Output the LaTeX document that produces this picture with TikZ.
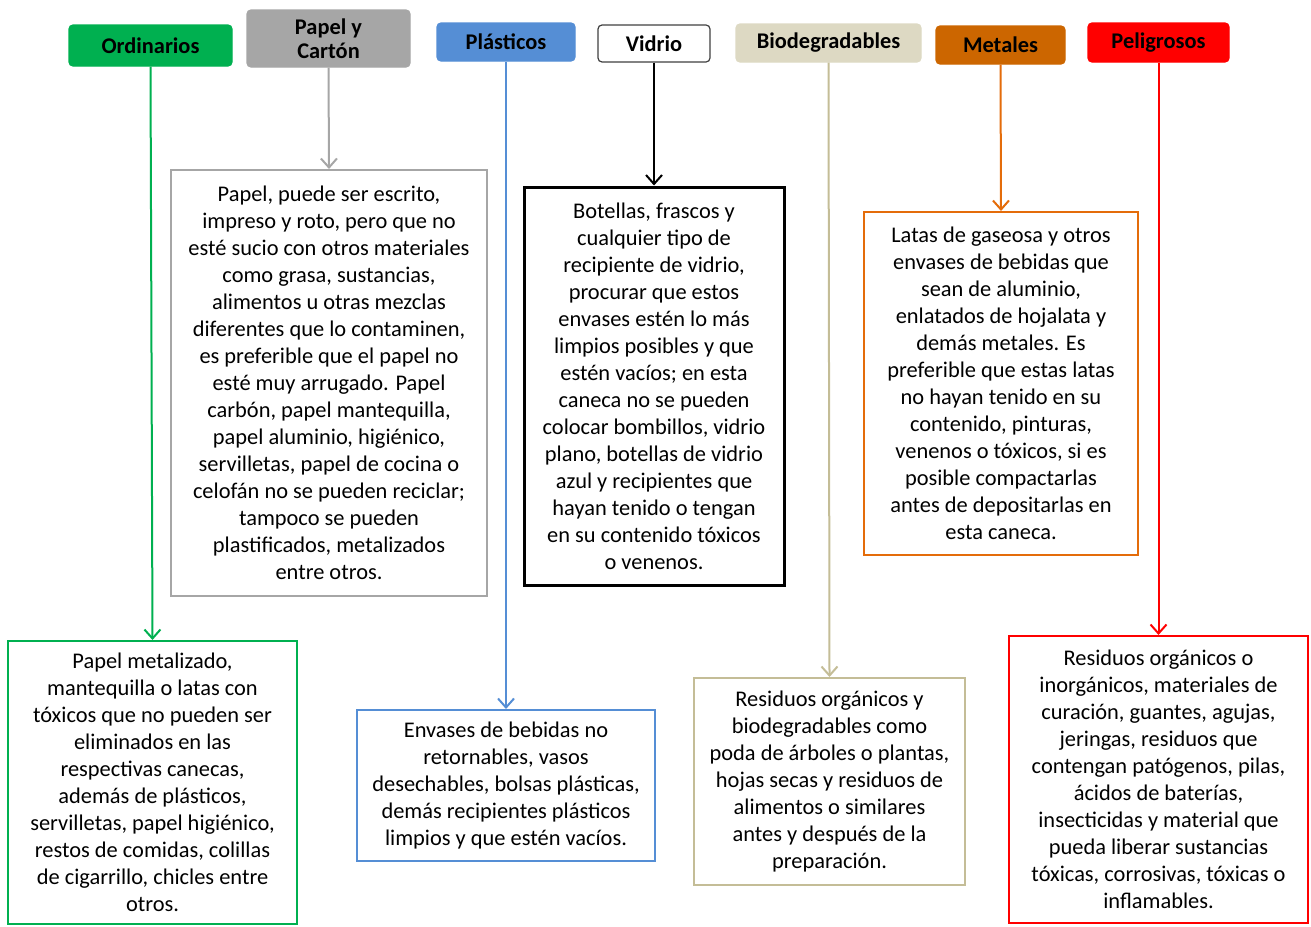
\documentclass[tikz,border=0pt]{standalone}
\usepackage{fontspec}
\setmainfont{Carlito}
\usetikzlibrary{arrows.meta}
\definecolor{ordC}{RGB}{0,176,80}
\definecolor{papC}{RGB}{166,166,166}
\definecolor{plaC}{RGB}{85,142,213}
\definecolor{bioC}{RGB}{221,217,195}
\definecolor{bioL}{RGB}{196,189,151}
\definecolor{metC}{RGB}{204,102,0}
\definecolor{metL}{RGB}{228,108,10}
\definecolor{pelC}{RGB}{255,0,0}
\tikzset{
  hdr/.style={rounded corners=2pt, draw=#1, fill=#1, line width=0.6pt,
    font=\bfseries\fontsize{11.2}{12}\selectfont, align=center, inner sep=0pt},
  txtbox/.style={draw=#1, line width=1pt, fill=white,
    font=\fontsize{11.2}{13.5}\selectfont, align=center, inner sep=0pt},
  link/.style={draw=#1, line width=1pt, -{Straight Barb[length=4.5pt,width=8pt]}}
}
\begin{document}
\begin{tikzpicture}[x=0.5pt,y=-0.5pt]
    \useasboundingbox (0,0) rectangle (1311,926);

    % Headers
    \node[hdr=ordC, minimum width=81.5pt, minimum height=20.5pt] (ord) at (150.5,45.5) {Ordinarios};
    \node[hdr=papC, minimum width=81.5pt, minimum height=28.5pt] (pap) at (328.5,38.5) {Papel y\\Cartón};
    \node[hdr=plaC, minimum width=69pt, minimum height=19pt] (pla) at (506,42) {Plásticos};
    \node[hdr=black!75, fill=white, minimum width=56pt, minimum height=18.5pt] (vid) at (654,43.5) {Vidrio};
    \node[hdr=bioC, minimum width=92.5pt, minimum height=19pt] (bio) at (828.5,43) {Biodegradables};
    \node[hdr=metC, minimum width=64.5pt, minimum height=19pt] (met) at (1000.5,45) {Metales};
    \node[hdr=pelC, minimum width=70.5pt, minimum height=19.5pt] (pel) at (1158.5,42.5) {Peligrosos};

    % Description boxes
    \node[txtbox=papC, minimum width=158pt, minimum height=213pt] (papT) at (329,383) {%
        Papel, puede ser escrito,\\impreso y roto, pero que no\\esté sucio con otros materiales\\
        como grasa, sustancias,\\alimentos u otras mezclas\\diferentes que lo contaminen,\\
        es preferible que el papel no\\esté muy arrugado. Papel\\carbón, papel mantequilla,\\
        papel aluminio, higiénico,\\servilletas, papel de cocina o\\celofán no se pueden reciclar;\\
        tampoco se pueden\\plastificados, metalizados\\entre otros.};
    \node[txtbox=black, line width=1.5pt, minimum width=130pt, minimum height=199pt] (vidT) at (654,386) {%
        Botellas, frascos y\\cualquier tipo de\\recipiente de vidrio,\\procurar que estos\\
        envases estén lo más\\limpios posibles y que\\estén vacíos; en esta\\caneca no se pueden\\
        colocar bombillos, vidrio\\plano, botellas de vidrio\\azul y recipientes que\\
        hayan tenido o tengan\\en su contenido tóxicos\\o venenos.};
    \node[txtbox=metL, minimum width=137pt, minimum height=171.5pt] (metT) at (1001,383.5) {%
        Latas de gaseosa y otros\\envases de bebidas que\\sean de aluminio,\\enlatados de hojalata y\\
        demás metales. Es\\preferible que estas latas\\no hayan tenido en su\\contenido, pinturas,\\
        venenos o tóxicos, si es\\posible compactarlas\\antes de depositarlas en\\esta caneca.};
    \node[txtbox=ordC, minimum width=144.5pt, minimum height=141.5pt] (ordT) at (152.5,782.5) {%
        Papel metalizado,\\mantequilla o latas con\\tóxicos que no pueden ser\\eliminados en las\\
        respectivas canecas,\\además de plásticos,\\servilletas, papel higiénico,\\
        restos de comidas, colillas\\de cigarrillo, chicles entre\\otros.};
    \node[txtbox=plaC, minimum width=149pt, minimum height=75.5pt] (plaT) at (506,785.5) {%
        Envases de bebidas no\\retornables, vasos\\desechables, bolsas plásticas,\\
        demás recipientes plásticos\\limpios y que estén vacíos.};
    \node[txtbox=bioL, minimum width=135.5pt, minimum height=103.5pt] (bioT) at (829.5,781.5) {%
        Residuos orgánicos y\\biodegradables como\\poda de árboles o plantas,\\
        hojas secas y residuos de\\alimentos o similares\\antes y después de la\\preparación.};
    \node[txtbox=pelC, minimum width=149.5pt, minimum height=143.5pt] (pelT) at (1158.5,779.5) {%
        Residuos orgánicos o\\inorgánicos, materiales de\\curación, guantes, agujas,\\
        jeringas, residuos que\\contengan patógenos, pilas,\\ácidos de baterías,\\
        insecticidas y material que\\pueda liberar sustancias\\tóxicas, corrosivas, tóxicas o\\inflamables.};

    % Connectors
    \draw[link=ordC] (ord.south) -- (ordT.north);
    \draw[link=papC] (pap.south) -- (papT.north);
    \draw[link=plaC] (pla.south) -- (plaT.north);
    \draw[link=black] (vid.south) -- (vidT.north);
    \draw[link=bioL] (bio.south) -- (bioT.north);
    \draw[link=metL] (met.south) -- (metT.north);
    \draw[link=pelC] (pel.south) -- (pelT.north);
\end{tikzpicture}
\end{document}
